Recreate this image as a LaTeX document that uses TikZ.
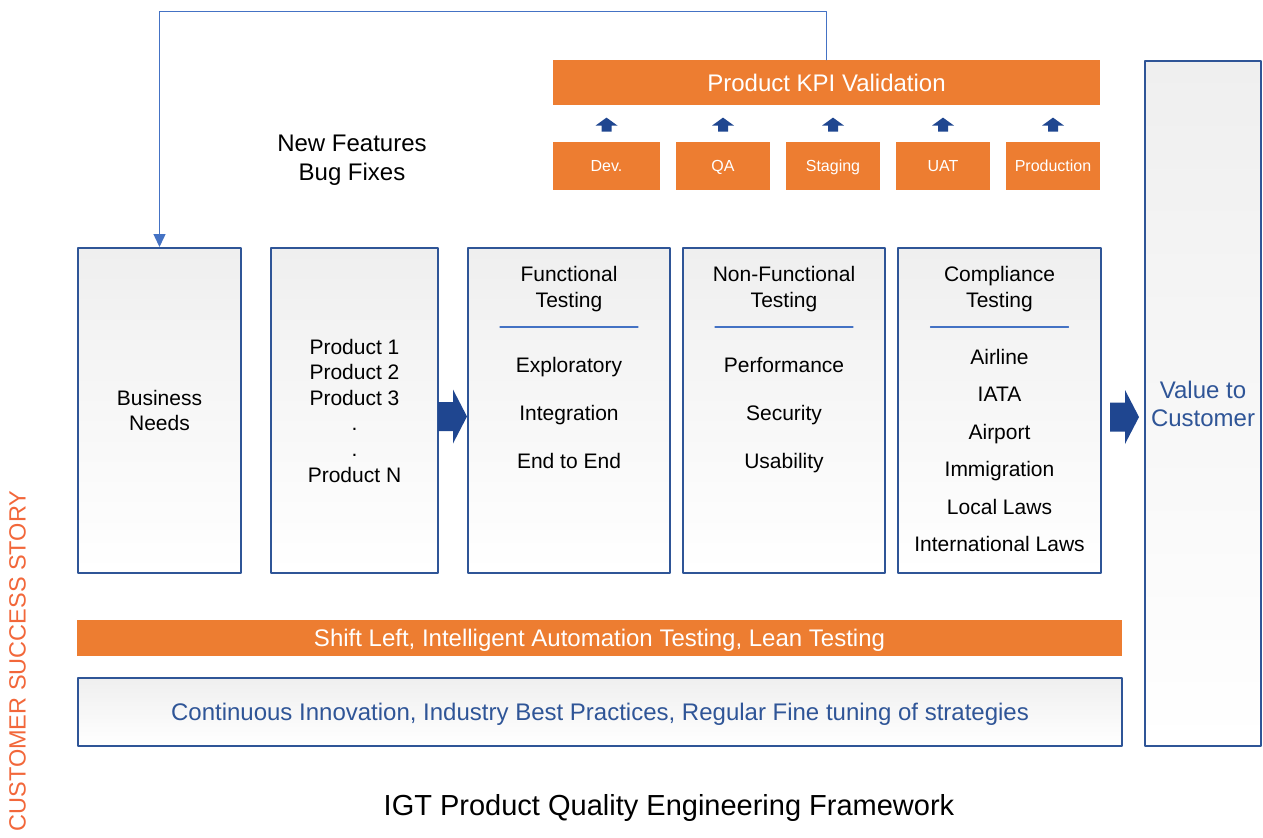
\documentclass[tikz,border=0pt]{standalone}
\usepackage{fontspec}
\setmainfont{Liberation Sans}
\usetikzlibrary{arrows.meta}
\usetikzlibrary{positioning}
\usetikzlibrary{calc}

\definecolor{kpiorange}{HTML}{ED7D31}
\definecolor{boxblue}{HTML}{2F5597}
\definecolor{arrowblue}{HTML}{1F4690}
\definecolor{linkblue}{HTML}{4472C4}
\definecolor{storyred}{HTML}{F2673A}
\definecolor{boxgray}{HTML}{EFEFEF}

\begin{document}
\begin{tikzpicture}[line cap=round,line join=round,x=0.5pt,y=-0.5pt,
  orangebar/.style={fill=kpiorange,text=white,inner sep=0pt,text depth=0pt,font=\fontsize{12}{14}\selectfont},
  stagebox/.style={fill=kpiorange,text=white,inner sep=0pt,text depth=0pt,minimum height=24pt,font=\fontsize{8}{10}\selectfont},
  framebox/.style={draw=boxblue,line width=1pt,top color=boxgray,bottom color=white,inner sep=0pt,align=center,minimum height=162.5pt},
  bodytext/.style={align=center,font=\fontsize{10.5}{12.8}\selectfont},
  itemtext/.style={anchor=base,font=\fontsize{10.5}{12.8}\selectfont},
  bigtext/.style={align=center,font=\fontsize{12}{14.3}\selectfont},
  bigarrow/.pic={\fill[arrowblue] (-15,-14.5) -- (0,-14.5) -- (0,-27) -- (14,0) -- (0,27) -- (0,14.5) -- (-15,14.5) -- cycle;},
  uparrow/.pic={\fill[arrowblue] (-5,0) -- (-5,-6) -- (-11,-6) -- (0,-14) -- (11,-6) -- (5,-6) -- (5,0) -- cycle;}]
\useasboundingbox (0,0) rectangle (1263,837);

% KPI validation and stages
\node[orangebar,minimum width=273.5pt,minimum height=22.5pt] (kpi) at (826.5,82.5) {Product KPI Validation};
\node[stagebox,minimum width=53.5pt] (dev) at (606.5,166) {Dev.};
\node[stagebox,minimum width=47pt] (qa) at (723,166) {QA};
\node[stagebox,minimum width=47pt] (stag) at (833,166) {Staging};
\node[stagebox,minimum width=47pt] (uat) at (943,166) {UAT};
\node[stagebox,minimum width=47pt] (prodn) at (1053,166) {Production};
\foreach \s in {dev,qa,stag,uat,prodn}
\pic at ($(\s.north)+(0,-10)$) {uparrow};

\node[bigtext] (newfeat) at (352,160.5) {New Features\\Bug Fixes};

% main columns
\node[framebox,minimum width=81.5pt,font=\fontsize{10.5}{12.8}\selectfont] (biz) at (159.5,410.5) {Business\\Needs};
\node[framebox,minimum width=83.5pt,font=\fontsize{10.5}{12.8}\selectfont] (prod) at (354.5,410.5) {Product 1\\Product 2\\Product 3\\.\\.\\Product N};
\node[framebox,minimum width=101pt] (func) at (569,410.5) {};
\node[framebox,minimum width=101pt] (nonf) at (784,410.5) {};
\node[framebox,minimum width=101.5pt] (comp) at (999.5,410.5) {};
\node[framebox,minimum width=58pt,minimum height=342.5pt,text=boxblue,font=\fontsize{12}{14}\selectfont] (value) at (1203,403.5) {Value to\\Customer};

\node[bodytext] (functitle) at ($(func.north)+(0,42)$) {Functional\\Testing};
\node[bodytext] (nonftitle) at ($(nonf.north)+(0,42)$) {Non-Functional\\Testing};
\node[bodytext] (comptitle) at ($(comp.north)+(0,42)$) {Compliance\\Testing};
\foreach \c in {func,nonf,comp}
\draw[linkblue,line width=0.6pt] ($(\c.north)+(-69,80)$) -- ++(138,0);

\foreach \t [count=\i] in {Exploratory,Integration,End to End}
\node[itemtext] (func\i) at ($(func.north)+(0,77.5+48*\i)$) {\t};
\foreach \t [count=\i] in {Performance,Security,Usability}
\node[itemtext] (nonf\i) at ($(nonf.north)+(0,77.5+48*\i)$) {\t};
\foreach \t [count=\i] in {Airline,IATA,Airport,Immigration,Local Laws,International Laws}
\node[itemtext] (comp\i) at ($(comp.north)+(0,80.1+37.4*\i)$) {\t};

\pic at ($(prod.east)!0.5!(func.west)+(0,6)$) {bigarrow};
\pic at ($(comp.east)!0.5!(value.west)+(2,10)$) {bigarrow};

% feedback loop
\draw[linkblue,line width=0.7pt,-{Triangle[width=6pt,length=6.5pt]}] (kpi.north) -- ++(0,-48) -| (biz.north);

% bottom bars
\node[orangebar,minimum width=522.5pt,minimum height=18pt] (shift) at (599.5,638) {Shift Left, Intelligent Automation Testing, Lean Testing};
\node[framebox,minimum width=522pt,minimum height=34pt,text depth=0pt,text=boxblue,font=\fontsize{12}{14}\selectfont] (cont) at (600,712) {Continuous Innovation, Industry Best Practices, Regular Fine tuning of strategies};

\node[text depth=0pt,font=\fontsize{14.5}{17}\selectfont] (title) at (669,805) {IGT Product Quality Engineering Framework};
\node[rotate=90,text=storyred,font=\fontsize{11.75}{14}\selectfont] (story) at (17.5,661) {CUSTOMER SUCCESS STORY};
\end{tikzpicture}
\end{document}
